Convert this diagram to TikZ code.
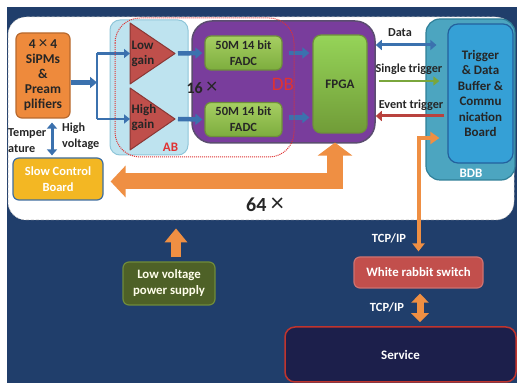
\documentclass[tikz,border=0pt]{standalone}
\usepackage{fontspec}
\setmainfont{Carlito}
\usetikzlibrary{arrows.meta,calc}

\definecolor{navy}{HTML}{203E6B}
\definecolor{ink}{HTML}{262626}
\definecolor{orangeA}{HTML}{EE8A3C}
\definecolor{orangeB}{HTML}{B8692E}
\definecolor{arrowor}{HTML}{EF8F43}
\definecolor{gold}{HTML}{F3B723}
\definecolor{steel}{HTML}{3F6E9F}
\definecolor{abfill}{HTML}{BEE3EF}
\definecolor{abline}{HTML}{8FC6D9}
\definecolor{ampred}{HTML}{BF4F4B}
\definecolor{ampline}{HTML}{8A3735}
\definecolor{dbfill}{HTML}{793D9C}
\definecolor{dbline}{HTML}{5B4D70}
\definecolor{greenA}{HTML}{A6CF62}
\definecolor{greenB}{HTML}{7DAD3E}
\definecolor{greenline}{HTML}{6E8F3A}
\definecolor{teal}{HTML}{4CA5C0}
\definecolor{tealline}{HTML}{2F7F98}
\definecolor{tdbfill}{HTML}{35A0D6}
\definecolor{tdbline}{HTML}{23619E}
\definecolor{linkblue}{HTML}{3B71AE}
\definecolor{trgreen}{HTML}{7AA63C}
\definecolor{trred}{HTML}{B9423E}
\definecolor{olive}{HTML}{4E6127}
\definecolor{oliveline}{HTML}{6F8B3A}
\definecolor{wrsred}{HTML}{C24F4C}
\definecolor{svcfill}{HTML}{1C1F4B}
\definecolor{svcline}{HTML}{C0342D}
\definecolor{labelred}{HTML}{E03232}

% a thin, wide multiplication sign
\newcommand{\bigtimes}[1]{{\mdseries\fontsize{#1}{#1}\selectfont ×}}

\begin{document}
\begin{tikzpicture}[x=1pt,y=-1pt,
  every node/.style={font=\bfseries, inner sep=0pt, text=ink},
  card/.style={rounded corners=6pt, line width=1.2pt, align=center},
  sipmbox/.style={card, fill=orangeA, draw=orangeB, minimum width=54pt, minimum height=85pt,
    font=\bfseries\fontsize{13.5}{15}\selectfont},
  scbbox/.style={card, fill=gold, draw=steel, minimum width=90pt, minimum height=42pt,
    text=white, font=\bfseries\fontsize{12.5}{16}\selectfont},
  abbox/.style={rounded corners=10pt, fill=abfill, draw=abline, line width=1pt,
    minimum width=78pt, minimum height=135pt},
  amp/.style={fill=ampred, draw=ampline, line width=1pt, line join=round},
  amptext/.style={align=left, anchor=west, font=\bfseries\fontsize{13}{15}\selectfont},
  dbbox/.style={rounded corners=20pt, fill=dbfill, draw=dbline, line width=1.5pt,
    minimum width=183pt, minimum height=122pt},
  fadcbox/.style={card, top color=greenA, bottom color=greenB, draw=greenline,
    minimum width=77pt, minimum height=34pt, font=\bfseries\fontsize{12.5}{16}\selectfont},
  fpgabox/.style={card, rounded corners=8pt, top color=greenA!90!green, bottom color=greenB!90!black,
    draw=greenline, minimum width=54pt, minimum height=98pt, font=\bfseries\fontsize{13}{15}\selectfont},
  bdbbox/.style={rounded corners=14pt, fill=teal, draw=tealline, line width=1.2pt,
    minimum width=89pt, minimum height=161pt},
  tdbbox/.style={rounded corners=10pt, fill=tdbfill, draw=tdbline, line width=1.2pt, align=center,
    minimum width=65pt, minimum height=139pt, font=\bfseries\fontsize{13}{15.5}\selectfont},
  wrsbox/.style={card, fill=wrsred, draw=wrsred!80!white, minimum width=129pt, minimum height=31pt,
    text=white, font=\bfseries\fontsize{12.8}{15}\selectfont},
  svcbox/.style={card, rounded corners=10pt, fill=svcfill, draw=svcline, line width=1.5pt,
    minimum width=231pt, minimum height=55pt, text=white, font=\bfseries\fontsize{13}{15}\selectfont},
  lvbox/.style={card, fill=olive, draw=oliveline, minimum width=92pt, minimum height=43pt,
    text=white!92!yellow, font=\bfseries\fontsize{12.8}{16}\selectfont},
  lbl/.style={font=\bfseries\fontsize{12.2}{16}\selectfont},
  wlbl/.style={text=white, font=\bfseries\fontsize{12.5}{14}\selectfont},
  bluefat/.style={draw=linkblue, line width=4.5pt, -{Triangle[length=7pt,width=11pt]}},
  bluethin/.style={draw=linkblue, line width=2.5pt},
  bluethinarrow/.style={bluethin, -{Triangle[length=6pt,width=9pt]}},
  bluetwin/.style={draw=linkblue, line width=3pt, {Triangle[length=6pt,width=10pt]}-{Triangle[length=6pt,width=10pt]}},
  bigorange/.style={draw=arrowor, line width=16pt, line join=miter,
    {Triangle[length=15pt,width=31pt]}-{Triangle[length=13pt,width=34pt]}},
  orangeline/.style={draw=arrowor, line width=4pt,
    {Triangle[length=9pt,width=12pt]}-{Triangle[length=8pt,width=12pt]}},
  orangetwin/.style={draw=arrowor, line width=7pt,
    {Triangle[length=9pt,width=17pt]}-{Triangle[length=9pt,width=17pt]}},
  orangeup/.style={draw=arrowor, line width=10pt, -{Triangle[length=14pt,width=22pt]}}
]
\useasboundingbox (0,0) rectangle (517,387);

% backdrop and the white system panel
\fill[white] (0,0) rectangle (517,387);
\fill[navy] (7,7) rectangle (517,383);
\draw[fill=white, draw=gray!55, densely dashed, line width=0.5pt, rounded corners=18pt] (8,17) rectangle (514,220);

% front-end: SiPMs and slow control
\node[sipmbox] (sipm) at (43,75.5) {4 \bigtimes{17} 4\\SiPMs\\\&\\Pream\\plifiers};
\node[scbbox] (slow) at (58,179) {Slow Control\\Board};
\draw[bluetwin] ($(sipm.south)+(9,4)$) -- ($(slow.north)+(-6,-2)$);
\node[lbl, align=left, anchor=west] (temp) at (8,141) {Temper\\ature};
\node[lbl, align=left, anchor=west] (hv) at (62,136) {High\\voltage};

% amplifier board
\node[abbox] (ab) at (149,87.5) {};
\draw[amp] (130,23) -- (175,53.5) -- (130,84) -- cycle;
\draw[amp] (130,88) -- (175,119) -- (130,150) -- cycle;
\coordinate (lowin) at (130,53.5);
\coordinate (lowout) at (175,53.5);
\coordinate (highin) at (130,119);
\coordinate (highout) at (175,119);
\node[amptext] (lowtxt) at (131.5,54) {Low\\gain};
\node[amptext] (hightxt) at (131.5,118) {High\\gain};
\node[font=\bfseries\fontsize{13}{14}\selectfont, text=labelred] (ablbl) at (170.5,147) {AB};

% signal split from the SiPMs to both gains
\coordinate (split) at (97,82.5);
\coordinate (splitT) at (split |- lowin);
\coordinate (splitB) at (split |- highin);
\draw[bluefat] ($(sipm.east)+(0,7)$) -- (split);
\draw[bluethin] (splitT) -- (splitB);
\draw[bluethinarrow] (splitT) -- (lowin);
\draw[bluethinarrow] (splitB) -- (highin);

% digitizer board
\node[dbbox] (db) at (283.5,82) {};
\node[fadcbox] (fadc1) at (243.5,53) {50M 14 bit\\FADC};
\node[fadcbox] (fadc2) at (243.5,119.5) {50M 14 bit\\FADC};
\node[fpgabox] (fpga) at (340,84) {FPGA};
\node[font=\bfseries\fontsize{16}{18}\selectfont] (x16) at (202,88) {16 \bigtimes{22}};
\node[font=\fontsize{19}{20}\selectfont, text=labelred] (dblbl) at (283,84) {DB};
\draw[bluefat] ($(lowout)+(3,0)$) -- ($(fadc1.west)+(-2,0)$);
\draw[bluefat] ($(highout)+(3,0)$) -- ($(fadc2.west)+(-2,0)$);
\draw[bluefat] ($(fadc1.east)+(6,0)$) -- ($(fpga.west |- fadc1.east)+(-3,0)$);
\draw[bluefat] ($(fadc2.east)+(6,-2)$) -- ($(fpga.west |- fadc2.east)+(-3,-2)$);

% one channel group outline
\draw[labelred, densely dotted, line width=1pt, rounded corners=25pt] (115,18) rectangle (294,157);

% trigger and data buffer board
\node[bdbbox] (bdb) at (470.5,99.5) {};
\node[tdbbox] (tdb) at (480.5,93.5) {Trigger\\\& Data\\Buffer \&\\Commu\\nication\\Board};
\node[text=white, font=\bfseries\fontsize{13}{14}\selectfont] (bdblbl) at (471,173) {BDB};

% links between FPGA and BDB
\draw[bluetwin] ($(db.east)+(0,-37)$) -- ($(tdb.west)+(-11,-48.5)$);
\draw[draw=trgreen, line width=2.5pt, -{Triangle[length=6pt,width=9pt]}] ($(db.east)+(3,-1)$) -- ($(tdb.west)+(-8,-12.5)$);
\draw[draw=trred, line width=3pt, -{Triangle[length=6pt,width=10pt]}] ($(tdb.west)+(-3,22.5)$) -- ($(db.east)+(0,34)$);
\node[lbl] (datalbl) at (400,33) {Data};
\node[lbl] (singlelbl) at (409,69) {Single trigger};
\node[lbl] (eventlbl) at (411,105) {Event trigger};

% slow control bus, 64 times
\coordinate (scbtip) at ($(slow.east)+(7,2.5)$);
\coordinate (fpgatip) at ($(fpga.south)+(-5,9)$);
\draw[bigorange] (scbtip) -- (scbtip -| fpgatip) -- (fpgatip);
\node[font=\bfseries\fontsize{20}{22}\selectfont] (x64) at (265,205) {64 \bigtimes{26}};

% network and power
\node[wrsbox] (wrs) at (418.5,272.5) {White rabbit switch};
\node[svcbox] (svc) at (400.5,354.5) {Service};
\node[lvbox] (lvps) at (169,283.5) {Low voltage\\power supply};
\draw[orangeline] ($(tdb.west)+(-8,44.5)$) -| ($(wrs.north)+(0,-5)$);
\draw[orangetwin] ($(wrs.south)+(1.5,5)$) -- ($(wrs.south |- svc.north)+(1.5,-4)$);
\draw[orangeup] ($(lvps.north)+(7,-4)$) -- ($(lvps.north)+(7,-33)$);
\node[wlbl] (tcp1) at (389,238) {TCP/IP};
\node[wlbl] (tcp2) at (387,307) {TCP/IP};
\end{tikzpicture}
\end{document}
